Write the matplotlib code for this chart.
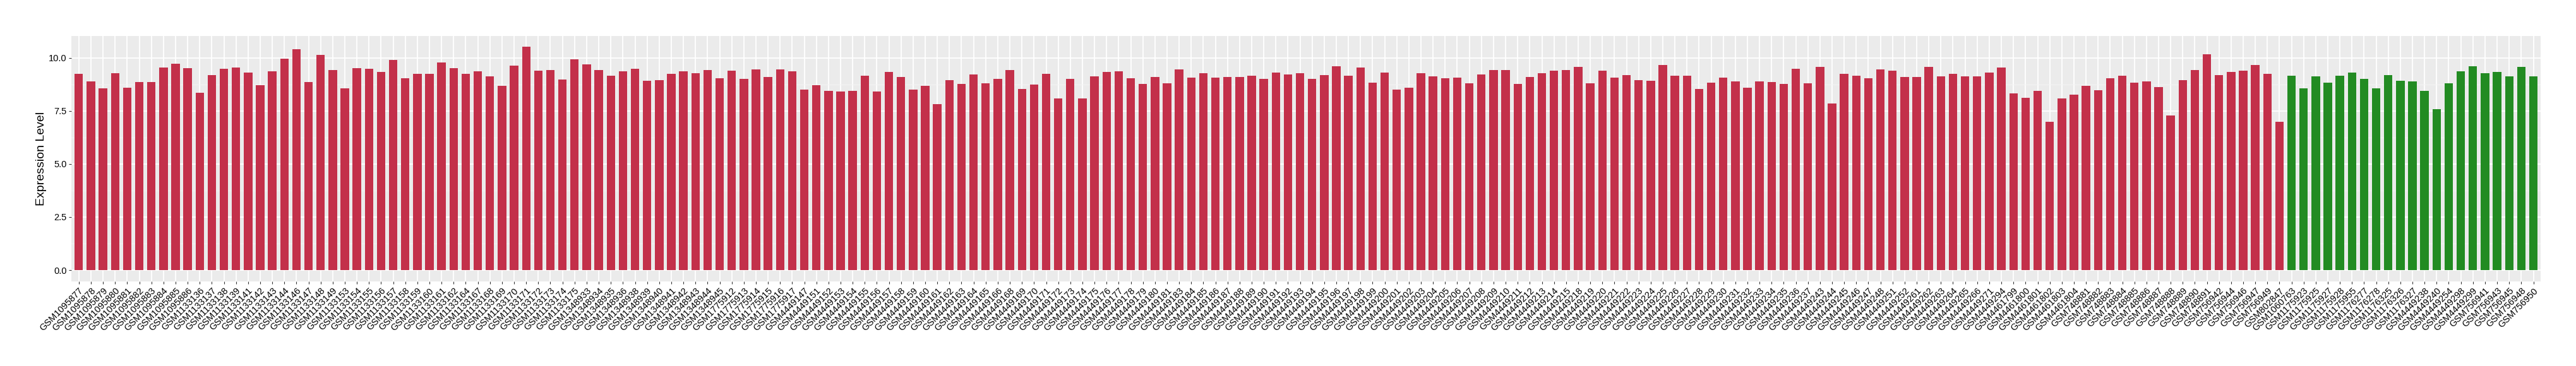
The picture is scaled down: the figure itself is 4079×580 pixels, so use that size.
import matplotlib
matplotlib.use("Agg")
import matplotlib.pyplot as plt
from matplotlib.ticker import MultipleLocator

red_samples = [
    "GSM1095877", "GSM1095878", "GSM1095879", "GSM1095880", "GSM1095881", "GSM1095882",
    "GSM1095883", "GSM1095884", "GSM1095885", "GSM1095886", "GSM1133136", "GSM1133137",
    "GSM1133138", "GSM1133139", "GSM1133141", "GSM1133142", "GSM1133143", "GSM1133144",
    "GSM1133146", "GSM1133147", "GSM1133148", "GSM1133149", "GSM1133153", "GSM1133154",
    "GSM1133155", "GSM1133156", "GSM1133157", "GSM1133158",
    "GSM1133159", "GSM1133160", "GSM1133161", "GSM1133162", "GSM1133164", "GSM1133167",
    "GSM1133168", "GSM1133169", "GSM1133170", "GSM1133171", "GSM1133172", "GSM1133173",
    "GSM1133174", "GSM1133175", "GSM1348933", "GSM1348934", "GSM1348935", "GSM1348936",
    "GSM1348938", "GSM1348939", "GSM1348940", "GSM1348941", "GSM1348942", "GSM1348943",
    "GSM1348944", "GSM1348945", "GSM1775912", "GSM1775913", "GSM1775914", "GSM1775915",
    "GSM1775916", "GSM1775917", "GSM4449147", "GSM4449151",
    "GSM4449152", "GSM4449153", "GSM4449154", "GSM4449155", "GSM4449156", "GSM4449157",
    "GSM4449158", "GSM4449159", "GSM4449160", "GSM4449161", "GSM4449162", "GSM4449163",
    "GSM4449164", "GSM4449165", "GSM4449166", "GSM4449168", "GSM4449169", "GSM4449170",
    "GSM4449171", "GSM4449172", "GSM4449173", "GSM4449174", "GSM4449175", "GSM4449176",
    "GSM4449177", "GSM4449178", "GSM4449179", "GSM4449180", "GSM4449181", "GSM4449183",
    "GSM4449184", "GSM4449185", "GSM4449186", "GSM4449187",
    "GSM4449188", "GSM4449189", "GSM4449190", "GSM4449191", "GSM4449192", "GSM4449193",
    "GSM4449194", "GSM4449195", "GSM4449196", "GSM4449197", "GSM4449198", "GSM4449199",
    "GSM4449200", "GSM4449201", "GSM4449202", "GSM4449203", "GSM4449204", "GSM4449205",
    "GSM4449206", "GSM4449207", "GSM4449208", "GSM4449209", "GSM4449210", "GSM4449211",
    "GSM4449212", "GSM4449213", "GSM4449214", "GSM4449215", "GSM4449218", "GSM4449219",
    "GSM4449220", "GSM4449221", "GSM4449222", "GSM4449223",
    "GSM4449224", "GSM4449225", "GSM4449226", "GSM4449227", "GSM4449228", "GSM4449229",
    "GSM4449230", "GSM4449231", "GSM4449232", "GSM4449233", "GSM4449234", "GSM4449235",
    "GSM4449236", "GSM4449237", "GSM4449243", "GSM4449244", "GSM4449245", "GSM4449246",
    "GSM4449247", "GSM4449248", "GSM4449251", "GSM4449252", "GSM4449261", "GSM4449262",
    "GSM4449263", "GSM4449264", "GSM4449265", "GSM4449266", "GSM4449271", "GSM4449294",
    "GSM4461799", "GSM4461800", "GSM4461801", "GSM4461802",
    "GSM4461803", "GSM4461804", "GSM748881", "GSM748882", "GSM748883", "GSM748884",
    "GSM748885", "GSM748886", "GSM748887", "GSM748888", "GSM748889", "GSM748890",
    "GSM748891", "GSM756942", "GSM756944", "GSM756946", "GSM756947", "GSM756949",
    "GSM802847",
]
red_values = [
    9.25, 8.90, 8.57, 9.28, 8.60, 8.87,
    8.85, 9.55, 9.71, 9.52, 8.34, 9.19,
    9.47, 9.53, 9.29, 8.70, 9.35, 9.97,
    10.40, 8.87, 10.13, 9.42, 8.55, 9.50,
    9.47, 9.33, 9.90, 9.04,
    9.24, 9.24, 9.77, 9.51, 9.24, 9.36,
    9.12, 8.67, 9.63, 10.51, 9.39, 9.42,
    8.97, 9.92, 9.68, 9.42, 9.16, 9.36,
    9.47, 8.92, 8.95, 9.24, 9.36, 9.27,
    9.42, 9.04, 9.39, 9.00, 9.45, 9.09,
    9.45, 9.36, 8.50, 8.71,
    8.44, 8.41, 8.44, 9.16, 8.41, 9.33,
    9.09, 8.50, 8.67, 7.82, 8.95, 8.76,
    9.21, 8.80, 9.00, 9.42, 8.53, 8.74,
    9.24, 8.08, 9.00, 8.08, 9.12, 9.33,
    9.36, 9.04, 8.76, 9.09, 8.80, 9.45,
    9.06, 9.27, 9.06, 9.09,
    9.09, 9.16, 9.00, 9.30, 9.21, 9.27,
    9.00, 9.18, 9.59, 9.16, 9.54, 8.83,
    9.30, 8.50, 8.59, 9.27, 9.12, 9.04,
    9.06, 8.80, 9.21, 9.42, 9.42, 8.76,
    9.09, 9.27, 9.39, 9.42, 9.56, 8.80,
    9.39, 9.06, 9.18, 8.95,
    8.92, 9.66, 9.16, 9.16, 8.53, 8.83,
    9.06, 8.88, 8.59, 8.88, 8.86, 8.76,
    9.47, 8.80, 9.56, 7.85, 9.24, 9.16,
    9.04, 9.45, 9.39, 9.09, 9.09, 9.56,
    9.12, 9.24, 9.12, 9.12, 9.30, 9.54,
    8.32, 8.12, 8.44, 6.99,
    8.08, 8.26, 8.67, 8.47, 9.04, 9.16,
    8.83, 8.88, 8.62, 7.28, 8.95, 9.42,
    10.16, 9.18, 9.33, 9.39, 9.66, 9.24,
    6.99,
]

green_samples = [
    "GSM1060763", "GSM1175923", "GSM1175925", "GSM1175927", "GSM1175928", "GSM1175955",
    "GSM1176277", "GSM1176278", "GSM1176325", "GSM1176326", "GSM1176327", "GSM4449238",
    "GSM4449240", "GSM4449254", "GSM4449298", "GSM4449299", "GSM756941", "GSM756943",
    "GSM756945", "GSM756948", "GSM756950",
]
green_values = [
    9.16, 8.56, 9.12, 8.83, 9.16, 9.30,
    9.00, 8.56, 9.18, 8.92, 8.88, 8.44,
    7.58, 8.80, 9.36, 9.59, 9.27, 9.33,
    9.12, 9.56, 9.12,
]

red_color = "#C3304A"
green_color = "#228B22"

plt.rcParams['font.family'] = ['Liberation Sans', 'DejaVu Sans']

W, H = 4080, 580
fig = plt.figure(figsize=(W / 100, H / 100), dpi=100)
left, right, top, bottom = 113.3, 4023.0, 56.7, 445.7
ax = fig.add_axes([left / W, 1 - bottom / H, (right - left) / W, (bottom - top) / H])

samples = red_samples + green_samples
values = red_values + green_values
colors = [red_color] * len(red_samples) + [green_color] * len(green_samples)
x = list(range(len(samples)))

ax.set_facecolor("#EBEBEB")
ax.bar(x, values, width=0.7, color=colors, zorder=3)

n = len(samples)
ax.set_xlim(-0.6, n - 1 + 0.6)
vmax = max(values)
ax.set_ylim(-0.05 * vmax, vmax * 1.05)

ax.yaxis.set_major_locator(MultipleLocator(2.5))
ax.yaxis.set_minor_locator(MultipleLocator(1.25))
ax.set_yticks([0, 2.5, 5.0, 7.5, 10.0])
ax.set_yticklabels(["0.0", "2.5", "5.0", "7.5", "10.0"])
ax.grid(which="major", axis="both", color="white", linewidth=1.3, zorder=0)
ax.grid(which="minor", axis="y", color="#F5F5F5", linewidth=0.7, zorder=0)
ax.set_axisbelow(True)

ax.set_xticks(x)
ax.set_xticklabels(samples, rotation=45, ha="right", va="top",
                   rotation_mode="anchor", fontsize=10.5, color="black")
ax.tick_params(axis="both", which="major", length=3.2, width=0.8, color="#333333",
               labelsize=10.5, labelcolor="black", pad=2.5)
ax.tick_params(axis="x", which="minor", bottom=False)
ax.tick_params(axis="y", which="minor", left=False)

for s in ax.spines.values():
    s.set_visible(False)

lbl = ax.set_ylabel("Expression Level", fontsize=14, color="black")
ax.yaxis.set_label_coords(-0.0122, 0.5)
lbl.set_va("center")

fig.savefig("out.png", dpi=100, facecolor="white")
